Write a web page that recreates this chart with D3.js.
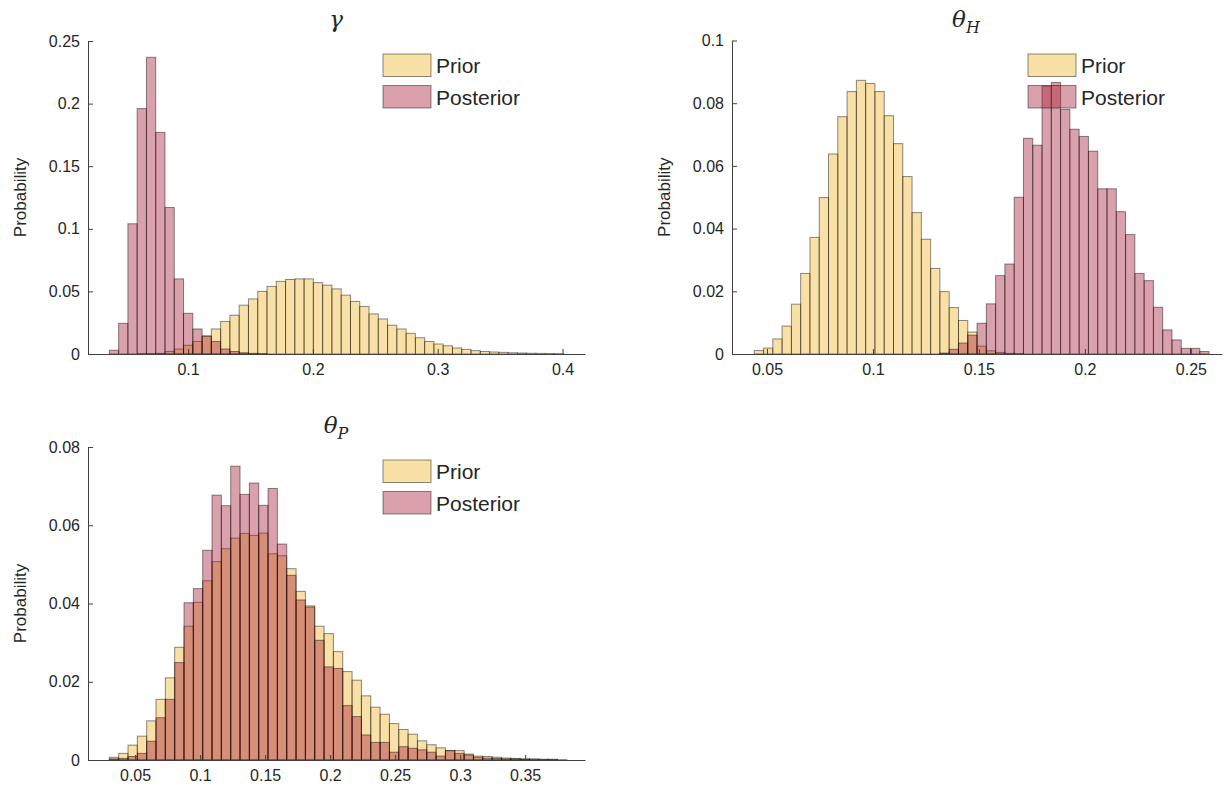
<!DOCTYPE html>
<html><head><meta charset="UTF-8"><title>Prior vs Posterior</title>
<style>
  body { margin: 0; background: #fff; }
  svg text { font-family: "Liberation Sans", Arial, sans-serif; fill: #262626; }
  .title { font-family: "DejaVu Serif", "Liberation Serif", serif; font-style: italic; }
  .axis path, .axis line { stroke: #404040; }
  .axis text { font-size: 16px; }
</style>
</head><body>
<svg id="chart" width="1225" height="793"></svg>
<script src="https://d3js.org/d3.v7.min.js"></script>
<script>
// gamma
const gammaPriorStart = 0.0592, gammaPostStart = 0.0369, gammaWidth = 0.00743;
const gammaPrior = [0.0002,0.0003,0.0005,0.002,0.004,0.007,0.01,0.0146,0.020,0.026,0.031,0.039,0.044,0.050,0.054,0.058,0.0595,0.060,0.060,0.057,0.055,0.052,0.047,0.042,0.038,0.032,0.028,0.023,0.020,0.0165,0.013,0.010,0.008,0.0066,0.0048,0.0037,0.0027,0.002,0.0016,0.0013,0.001,0.0008,0.0006,0.0005,0.0004,0.0003];
const gammaPost = [0.003,0.0245,0.104,0.196,0.237,0.177,0.117,0.060,0.0325,0.020,0.014,0.010,0.004,0.002,0.001,0.0005,0.0003];
const gammaXTicks = [0.1, 0.2, 0.3, 0.4];
const gammaYTicks = [0, 0.05, 0.1, 0.15, 0.2, 0.25];

// theta_H
const thHPriorStart = 0.044, thHPostStart = 0.1316, thHWidth = 0.00438;
const thHPrior = [0.0011,0.0019,0.0048,0.0089,0.0159,0.0257,0.0372,0.0499,0.0638,0.0757,0.0837,0.0873,0.0863,0.0837,0.076,0.0671,0.0566,0.0451,0.0366,0.0273,0.0199,0.0148,0.0107,0.007,0.0025,0.001,0.0005,0.0002,0.0001];
const thHPost = [0.0003,0.0015,0.0035,0.006,0.0098,0.016,0.025,0.0287,0.050,0.0688,0.0666,0.0855,0.0866,0.078,0.0717,0.0694,0.0647,0.0527,0.0527,0.0454,0.0381,0.0257,0.0234,0.0149,0.0077,0.0045,0.0018,0.0018,0.0008];
const thHXTicks = [0.05, 0.1, 0.15, 0.2, 0.25];
const thHYTicks = [0, 0.02, 0.04, 0.06, 0.08, 0.1];

// theta_P
const thPStart = 0.0302, thPWidth = 0.00718;
const thPPrior = [0.0007,0.0017,0.0038,0.0061,0.010,0.0155,0.021,0.0288,0.0342,0.0403,0.0458,0.0507,0.054,0.0567,0.0579,0.0574,0.058,0.0527,0.0522,0.0489,0.0431,0.0394,0.0342,0.0323,0.0277,0.0226,0.0204,0.0164,0.0135,0.0117,0.0093,0.0078,0.0066,0.0049,0.0039,0.0031,0.0024,0.0024,0.0015,0.001,0.0009,0.0007,0.0005,0.0004,0.0003,0.0003,0.0002,0.0002,0.0001];
const thPPost = [0.0003,0.0004,0.0009,0.0017,0.0048,0.0108,0.0155,0.0249,0.0402,0.0438,0.0536,0.0677,0.065,0.0751,0.0679,0.0708,0.0651,0.0694,0.0552,0.0472,0.0409,0.0391,0.0306,0.0238,0.0234,0.0139,0.0111,0.0064,0.0045,0.0045,0.002,0.0034,0.003,0.0026,0.002,0.001,0.0024,0.0017,0.0013,0.0007,0.0005,0.0004,0.0003,0.0003,0.0002,0.0001,0.0001,0.0001];
const thPXTicks = [0.05, 0.1, 0.15, 0.2, 0.25, 0.3, 0.35];
const thPYTicks = [0, 0.02, 0.04, 0.06, 0.08];

const priorColor = "#EDB120", postColor = "#A2142F";
const svg = d3.select("#chart");
const fmt = d3.format("~g");

function panel(o) {
  const g = svg.append("g");
  const x = d3.scaleLinear().domain(o.xDomain).range([o.left, o.right]);
  const y = d3.scaleLinear().domain(o.yDomain).range([o.bottom, o.top]);

  const series = [
    { vals: o.prior, start: o.priorStart, color: priorColor },
    { vals: o.post, start: o.postStart, color: postColor }
  ];
  series.forEach(s => {
    g.append("g").selectAll("rect").data(s.vals).join("rect")
      .attr("x", (d, i) => x(s.start + i * o.width))
      .attr("width", x(o.width) - x(0))
      .attr("y", d => y(d))
      .attr("height", d => y(0) - y(d))
      .attr("fill", s.color).attr("fill-opacity", 0.4)
      .attr("stroke", "#000").attr("stroke-opacity", 0.45).attr("stroke-width", 1);
  });

  g.append("g").attr("class", "axis").attr("transform", `translate(0,${o.bottom})`)
    .call(d3.axisBottom(x).tickValues(o.xTicks).tickFormat(fmt).tickSizeInner(-5).tickSizeOuter(0).tickPadding(10));
  g.append("g").attr("class", "axis").attr("transform", `translate(${o.left},0)`)
    .call(d3.axisLeft(y).tickValues(o.yTicks).tickFormat(fmt).tickSizeInner(-5).tickSizeOuter(0).tickPadding(8));

  g.append("text").attr("transform", `translate(${o.left - 62},${(o.top + o.bottom) / 2}) rotate(-90)`)
    .attr("text-anchor", "middle").style("font-size", "17px").text("Probability");

  const t = g.append("text").attr("class", "title").attr("x", o.titleX).attr("y", o.top - 14)
    .attr("text-anchor", "middle").style("font-size", "23px").text(o.title);
  if (o.sub) t.append("tspan").attr("dy", 6).style("font-size", "16px").text(o.sub);

  ["Prior", "Posterior"].forEach((name, i) => {
    const ly = o.legY + i * 31.5;
    g.append("rect").attr("x", o.legX).attr("y", ly).attr("width", 48).attr("height", 22.5)
      .attr("fill", i ? postColor : priorColor).attr("fill-opacity", 0.4)
      .attr("stroke", "#000").attr("stroke-opacity", 0.45);
    g.append("text").attr("x", o.legX + 53).attr("y", ly + 19).style("font-size", "21px").text(name);
  });
}

panel({ title: "γ", titleX: 336, left: 88, right: 585, top: 41, bottom: 354, xDomain: [0.0198, 0.418], yDomain: [0, 0.25],
  prior: gammaPrior, post: gammaPost, priorStart: gammaPriorStart, postStart: gammaPostStart, width: gammaWidth,
  xTicks: gammaXTicks, yTicks: gammaYTicks, legX: 383, legY: 54 });
panel({ title: "θ", sub: "H", titleX: 966, left: 732, right: 1222, top: 40.5, bottom: 354, xDomain: [0.0335, 0.2647], yDomain: [0, 0.1],
  prior: thHPrior, post: thHPost, priorStart: thHPriorStart, postStart: thHPostStart, width: thHWidth,
  xTicks: thHXTicks, yTicks: thHYTicks, legX: 1028, legY: 54 });
panel({ title: "θ", sub: "P", titleX: 336, left: 88, right: 585, top: 447, bottom: 760, xDomain: [0.0138, 0.396], yDomain: [0, 0.08],
  prior: thPPrior, post: thPPost, priorStart: thPStart, postStart: thPStart, width: thPWidth,
  xTicks: thPXTicks, yTicks: thPYTicks, legX: 383, legY: 460 });
</script>
</body></html>
